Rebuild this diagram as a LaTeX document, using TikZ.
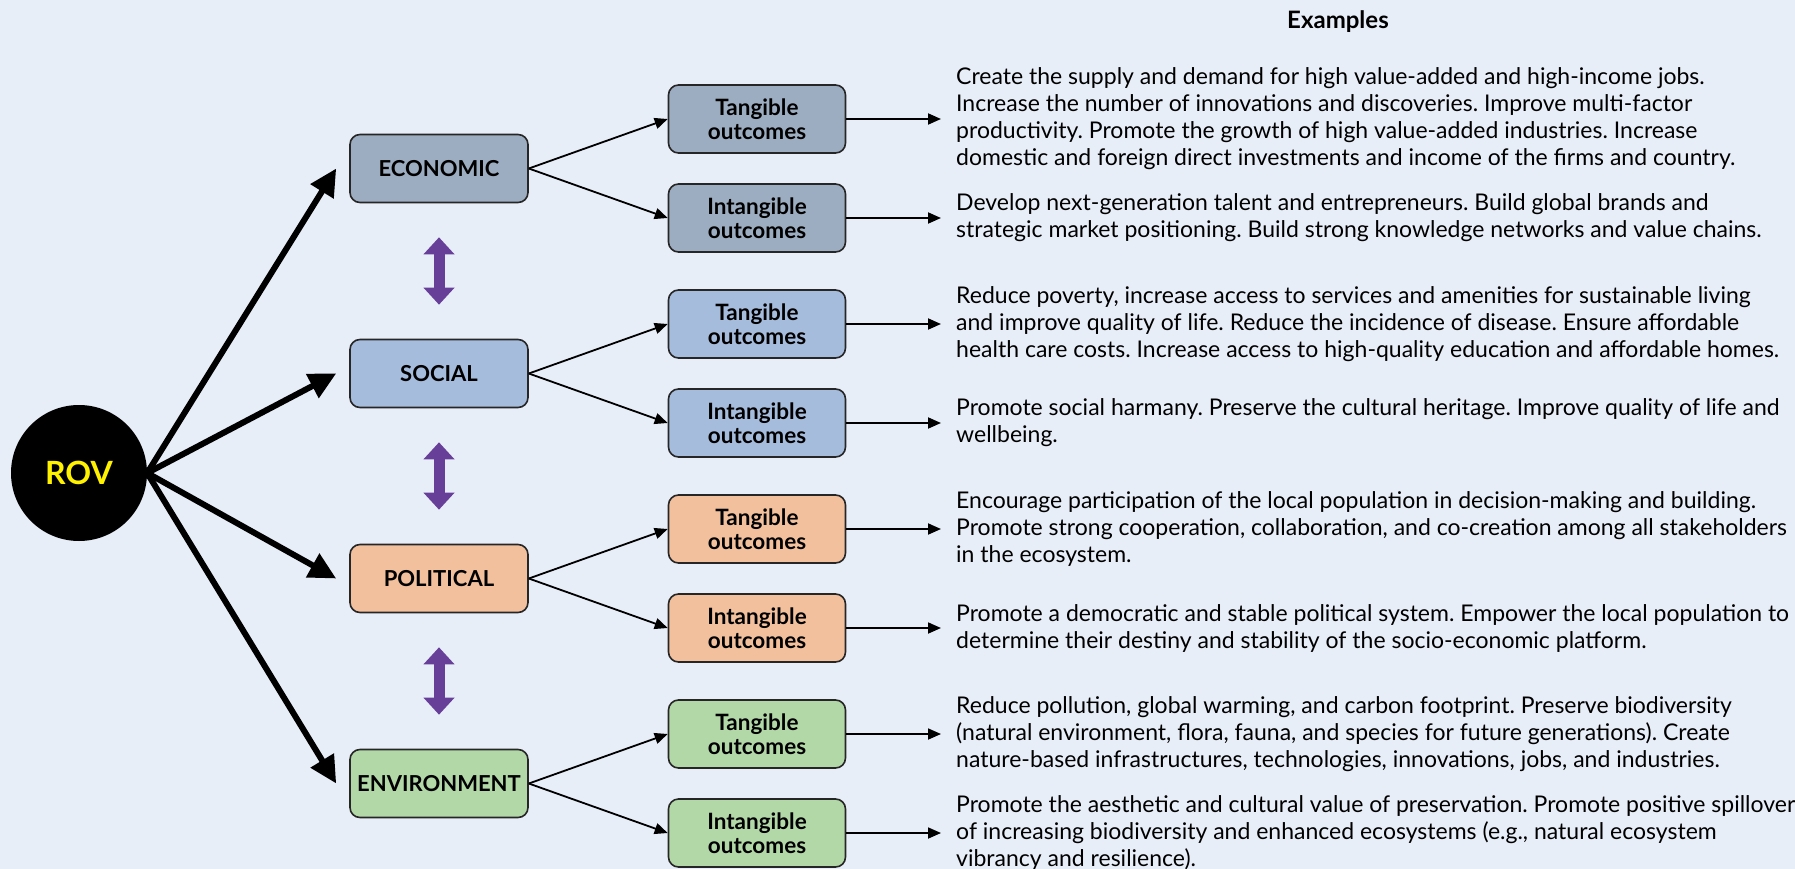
\documentclass[tikz,border=0pt]{standalone}
\usepackage{fontspec}
\setmainfont{Lato}
\usetikzlibrary{arrows.meta}
\definecolor{bg}{HTML}{E8EEF8}
\definecolor{ecoC}{HTML}{9DADC1}
\definecolor{socC}{HTML}{A6BCDD}
\definecolor{polC}{HTML}{F2C09C}
\definecolor{envC}{HTML}{B3D8A8}
\definecolor{purp}{HTML}{673E98}
\definecolor{rovY}{HTML}{FFF200}
\frenchspacing
\begin{document}
\begin{tikzpicture}[x=1pt,y=-1pt,
  catbox/.style={draw=black!85, line width=1.6pt, rounded corners=10pt, minimum width=178pt, minimum height=68pt, inner sep=0pt, font=\fontsize{22}{24}\selectfont\bfseries},
  outbox/.style={catbox, minimum width=177pt, align=center, font=\fontsize{22.5}{24}\selectfont\bfseries},
  desc/.style={anchor=west, align=left, inner sep=0pt, font=\fontsize{23}{27}\selectfont},
  bigarrow/.style={line width=6pt, -{Triangle[length=27pt,width=26pt]}},
  thinarrow/.style={line width=1.8pt, -{Triangle[length=13pt,width=11pt]}},
  purparrow/.style={draw=purp, line width=11pt, {Triangle[length=17pt,width=30pt]}-{Triangle[length=17pt,width=30pt]}, shorten <=34pt, shorten >=34pt}
]
\fill[bg] (0,0) rectangle (1795,869);
\useasboundingbox (0,0) rectangle (1795,869);

\node[font=\fontsize{24}{26}\selectfont\bfseries] (examples) at (1338,22) {Examples};

\node[circle, fill=black, minimum size=136pt, inner sep=0pt, text=rovY, font=\fontsize{32}{34}\selectfont\bfseries] (rov) at (79,473) {ROV};

\node[catbox, fill=ecoC] (eco) at (439,168.5) {ECONOMIC};
\node[catbox, fill=socC] (soc) at (439,373.5) {SOCIAL};
\node[catbox, fill=polC] (pol) at (439,578.5) {POLITICAL};
\node[catbox, fill=envC] (env) at (439,783.5) {ENVIRONMENT};

\node[outbox, fill=ecoC] (eT) at (757,119) {Tangible\\outcomes};
\node[outbox, fill=ecoC] (eI) at (757,218) {Intangible\\outcomes};
\node[outbox, fill=socC] (sT) at (757,324) {Tangible\\outcomes};
\node[outbox, fill=socC] (sI) at (757,423) {Intangible\\outcomes};
\node[outbox, fill=polC] (pT) at (757,529) {Tangible\\outcomes};
\node[outbox, fill=polC] (pI) at (757,628) {Intangible\\outcomes};
\node[outbox, fill=envC] (nT) at (757,734) {Tangible\\outcomes};
\node[outbox, fill=envC] (nI) at (757,833) {Intangible\\outcomes};

\node[desc] (eTx) at (956,119) {Create the supply and demand for high value-added and high-income jobs.\\Increase the number of innovations and discoveries. Improve multi-factor\\productivity. Promote the growth of high value-added industries. Increase\\domestic and foreign direct investments and income of the firms and country.};
\node[desc] (eIx) at (956,218) {Develop next-generation talent and entrepreneurs. Build global brands and\\strategic market positioning. Build strong knowledge networks and value chains.};
\node[desc] (sTx) at (956,324) {Reduce poverty, increase access to services and amenities for sustainable living\\and improve quality of life. Reduce the incidence of disease. Ensure affordable\\health care costs. Increase access to high-quality education and affordable homes.};
\node[desc] (sIx) at (956,423) {Promote social harmany. Preserve the cultural heritage. Improve quality of life and\\wellbeing.};
\node[desc] (pTx) at (956,529) {Encourage participation of the local population in decision-making and building.\\Promote strong cooperation, collaboration, and co-creation among all stakeholders\\in the ecosystem.};
\node[desc] (pIx) at (956,628) {Promote a democratic and stable political system. Empower the local population to\\determine their destiny and stability of the socio-economic platform.};
\node[desc] (nTx) at (956,734) {Reduce pollution, global warming, and carbon footprint. Preserve biodiversity\\(natural environment, flora, fauna, and species for future generations). Create\\nature-based infrastructures, technologies, innovations, jobs, and industries.};
\node[desc] (nIx) at (956,833) {Promote the aesthetic and cultural value of preservation. Promote positive spillover\\of increasing biodiversity and enhanced ecosystems (e.g., natural ecosystem\\vibrancy and resilience).};

\foreach \c in {eco,soc,pol,env}
  \draw[bigarrow] (rov.east) -- ([xshift=-13pt]\c.west);

\draw[thinarrow] (eco.east) -- (eT.west);
\draw[thinarrow] (eco.east) -- (eI.west);
\draw[thinarrow] (soc.east) -- (sT.west);
\draw[thinarrow] (soc.east) -- (sI.west);
\draw[thinarrow] (pol.east) -- (pT.west);
\draw[thinarrow] (pol.east) -- (pI.west);
\draw[thinarrow] (env.east) -- (nT.west);
\draw[thinarrow] (env.east) -- (nI.west);

\foreach \o in {eT,eI,sT,sI,pT,pI,nT,nI}
  \draw[thinarrow] (\o.east) -- ([xshift=-15pt]\o x.west);

\draw[purparrow] (eco.south) -- (soc.north);
\draw[purparrow] (soc.south) -- (pol.north);
\draw[purparrow] (pol.south) -- (env.north);
\end{tikzpicture}
\end{document}
